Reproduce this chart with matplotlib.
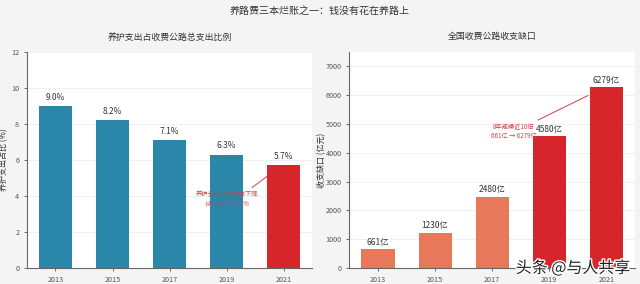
import matplotlib.pyplot as plt
import matplotlib.patheffects as pe

plt.rcParams['font.family'] = ['Noto Sans CJK SC', 'DejaVu Sans']

years = ['2013', '2015', '2017', '2019', '2021']
ratio = [9.0, 8.2, 7.1, 6.3, 5.7]
gap = [661, 1230, 2480, 4580, 6279]

blue = '#2a87a9'
red = '#d7262b'
coral = '#e8785a'
ann_red = '#d0404a'

fig, (ax1, ax2) = plt.subplots(1, 2, figsize=(6.4, 2.84), dpi=100)
fig.patch.set_facecolor('#f4f4f4')
fig.subplots_adjust(left=0.042, right=0.992, bottom=0.056, top=0.817, wspace=0.13)

fig.text(0.5, 0.962, '养路费三本烂账之一：钱没有花在养路上', ha='center', va='center',
         fontsize=7.2, color='#333333')

# left: maintenance ratio
x = range(len(years))
c1 = [blue] * 4 + [red]
ax1.bar(x, ratio, width=0.58, color=c1)
for i, v in enumerate(ratio):
    ax1.text(i, v + 0.25, f'{v:.1f}%', ha='center', va='bottom', fontsize=6, color='#333333')
ax1.set_ylim(0, 12)
ax1.set_xlim(-0.5, 4.5)
ax1.set_yticks([0, 2, 4, 6, 8, 10, 12])
ax1.set_ylabel('养护支出占比 (%)', fontsize=5.8, color='#333333')
ax1.yaxis.set_label_coords(-0.066, 0.5)
ax1.set_title('养护支出占收费公路总支出比例', fontsize=6.4, color='#333333', pad=9)
ax1.annotate('养护支出占比持续下降\n从9.0% → 5.7%', xy=(3.71, 5.1), xytext=(3.0, 3.85),
             ha='center', va='center', fontsize=4.5, color=ann_red, linespacing=1.2,
             arrowprops=dict(arrowstyle='-', color=ann_red, lw=0.7, relpos=(0.85, 1.0),
                             shrinkA=0, shrinkB=0))

# right: revenue gap
c2 = [coral] * 3 + [red] * 2
ax2.bar(x, gap, width=0.58, color=c2)
for i, v in enumerate(gap):
    ax2.text(i, v + 80, f'{v}亿', ha='center', va='bottom', fontsize=6, color='#333333')
ax2.set_ylim(0, 7500)
ax2.set_xlim(-0.5, 4.5)
ax2.set_yticks(range(0, 7001, 1000))
ax2.set_ylabel('收支缺口 (亿元)', fontsize=5.8, color='#333333')
ax2.yaxis.set_label_coords(-0.08, 0.5)
ax2.set_title('全国收费公路收支缺口', fontsize=6.4, color='#333333', pad=9)
ax2.annotate('8年规模近10倍\n661亿 → 6279亿', xy=(3.68, 5990), xytext=(2.38, 4740),
             ha='center', va='center', fontsize=4.5, color=ann_red, linespacing=1.2,
             arrowprops=dict(arrowstyle='-', color=ann_red, lw=0.7, relpos=(0.9, 1.0),
                             shrinkA=0, shrinkB=0))

for ax in (ax1, ax2):
    ax.set_facecolor('white')
    ax.set_xticks(list(x))
    ax.set_xticklabels(years)
    ax.tick_params(labelsize=5.2, colors='#555555', length=2, width=0.6)
    ax.grid(axis='y', color='#eeeeee', lw=0.6)
    ax.set_axisbelow(True)
    for s in ('top', 'right'):
        ax.spines[s].set_visible(False)
    for s in ('left', 'bottom'):
        ax.spines[s].set_color('#666666')
        ax.spines[s].set_linewidth(0.8)

fig.text(0.985, 0.055, '头条 @与人共享', ha='right', va='center', fontsize=11.5, color='#222222',
         path_effects=[pe.withStroke(linewidth=2, foreground='white')])

fig.savefig('out.png', dpi=100, facecolor=fig.get_facecolor())
